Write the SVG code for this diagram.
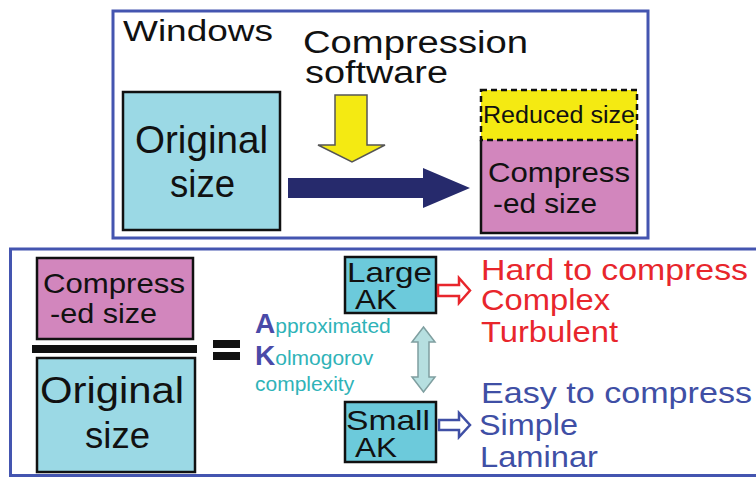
<svg xmlns="http://www.w3.org/2000/svg" width="756" height="477" viewBox="0 0 756 477">
<style>
.frame{fill:#ffffff;stroke:#4455b0;stroke-width:3}
.t{font-family:"Liberation Sans",Arial,sans-serif;fill:#111111}
.box{stroke:#111111;stroke-width:2.5}
.cyan{fill:#9bd9e5}
.ak{fill:#6ccadb}
.pink{fill:#d286bd}
.red{font-family:"Liberation Sans",Arial,sans-serif;fill:#e8262c;font-size:29px}
.blue{font-family:"Liberation Sans",Arial,sans-serif;fill:#3f4fa5;font-size:29px}
.teal{font-family:"Liberation Sans",Arial,sans-serif;fill:#2fb3b8;font-size:21px}
.ini{fill:#4a4aa8;font-weight:bold;font-size:28px}
</style>
<rect width="756" height="477" fill="#ffffff"/>

<g id="top-frame">
<rect class="frame" x="113" y="11" width="535" height="227"/>
<text class="t" x="123" y="41" font-size="30" textLength="150" lengthAdjust="spacingAndGlyphs">Windows</text>
</g>

<g id="compression-software">
<text class="t" x="303" y="53" font-size="31" textLength="225" lengthAdjust="spacingAndGlyphs">Compression</text>
<text class="t" x="305" y="83" font-size="31" textLength="143" lengthAdjust="spacingAndGlyphs">software</text>
</g>

<g id="original-top">
<rect class="box cyan" x="123" y="92" width="157" height="138"/>
<text class="t" x="135" y="153" font-size="39" textLength="133" lengthAdjust="spacingAndGlyphs">Original</text>
<text class="t" x="170" y="197" font-size="39" textLength="65" lengthAdjust="spacingAndGlyphs">size</text>
</g>

<g id="compressed-top">
<rect fill="#f4ea12" x="481" y="90" width="156" height="50"/>
<rect class="pink" x="481" y="140" width="156" height="93"/>
<path d="M481,140 V233 H637 V140" fill="none" stroke="#111111" stroke-width="2.5"/>
<rect x="481" y="90" width="156" height="50" fill="none" stroke="#111111" stroke-width="2.5" stroke-dasharray="6,4"/>
<text class="t" x="483" y="123" font-size="23" textLength="152" lengthAdjust="spacingAndGlyphs">Reduced size</text>
<text class="t" x="488" y="182" font-size="28" textLength="142" lengthAdjust="spacingAndGlyphs">Compress</text>
<text class="t" x="493" y="213" font-size="28" textLength="104" lengthAdjust="spacingAndGlyphs">-ed size</text>
</g>

<g id="bottom-frame">
<rect class="frame" x="10.5" y="249" width="770" height="226.5"/>
</g>

<g id="fraction">
<rect class="box pink" x="37" y="258" width="156" height="81"/>
<text class="t" x="43" y="293" font-size="28" textLength="142" lengthAdjust="spacingAndGlyphs">Compress</text>
<text class="t" x="50" y="323" font-size="28" textLength="107" lengthAdjust="spacingAndGlyphs">-ed size</text>
<rect x="32" y="345" width="165" height="8" fill="#111111"/>
<rect class="box cyan" x="37" y="358" width="158" height="114"/>
<text class="t" x="40" y="403" font-size="36" textLength="144" lengthAdjust="spacingAndGlyphs">Original</text>
<text class="t" x="85" y="448" font-size="36" textLength="65" lengthAdjust="spacingAndGlyphs">size</text>
</g>

<g id="equals">
<rect x="213" y="340" width="27" height="8" fill="#111111"/>
<rect x="213" y="352" width="27" height="8" fill="#111111"/>
</g>

<g id="ak-label">
<text class="teal" x="255" y="333"><tspan class="ini">A</tspan>pproximated</text>
<text class="teal" x="255" y="365"><tspan class="ini">K</tspan>olmogorov</text>
<text class="teal" x="255" y="391">complexity</text>
</g>

<g id="large-ak">
<rect class="box ak" x="345" y="257" width="91" height="56"/>
<text class="t" x="347" y="282" font-size="28" textLength="85" lengthAdjust="spacingAndGlyphs">Large</text>
<text class="t" x="355" y="309" font-size="28" textLength="42" lengthAdjust="spacingAndGlyphs">AK</text>
</g>

<g id="small-ak">
<rect class="box ak" x="345" y="402" width="91" height="60"/>
<text class="t" x="346" y="430" font-size="28" textLength="84" lengthAdjust="spacingAndGlyphs">Small</text>
<text class="t" x="355" y="457" font-size="28" textLength="42" lengthAdjust="spacingAndGlyphs">AK</text>
</g>

<g id="hard-text">
<text class="red" x="481" y="280" textLength="267" lengthAdjust="spacingAndGlyphs">Hard to compress</text>
<text class="red" x="481" y="310" textLength="129" lengthAdjust="spacingAndGlyphs">Complex</text>
<text class="red" x="481" y="342" textLength="137" lengthAdjust="spacingAndGlyphs">Turbulent</text>
</g>

<g id="easy-text">
<text class="blue" x="481" y="403" textLength="271" lengthAdjust="spacingAndGlyphs">Easy to compress</text>
<text class="blue" x="479" y="435" textLength="99" lengthAdjust="spacingAndGlyphs">Simple</text>
<text class="blue" x="480" y="467" textLength="118" lengthAdjust="spacingAndGlyphs">Laminar</text>
</g>

<g id="connectors">
<path d="M335,95 H367 V145 H385 L352,162 L318,145 H335 Z" fill="#f4ea12" stroke="#555555" stroke-width="1.5"/>
<path d="M288,178 H423 V168 L470,188 L423,208 V198 H288 Z" fill="#262a6c"/>
<path d="M423.5,327 L435,342 H429 V377 H435 L423.5,392 L412,377 H418 V342 H412 Z" fill="#b6dfe0" stroke="#7f9fa0" stroke-width="1.5"/>
<path d="M438,285 H459 V278 L470,290.5 L459,303 V296 H438 Z" fill="#ffffff" stroke="#e8262c" stroke-width="2.5" stroke-linejoin="miter"/>
<path d="M439,420 H459 V413 L470,425 L459,437 V430 H439 Z" fill="#ffffff" stroke="#3f4fa5" stroke-width="2.5"/>
</g>
</svg>
